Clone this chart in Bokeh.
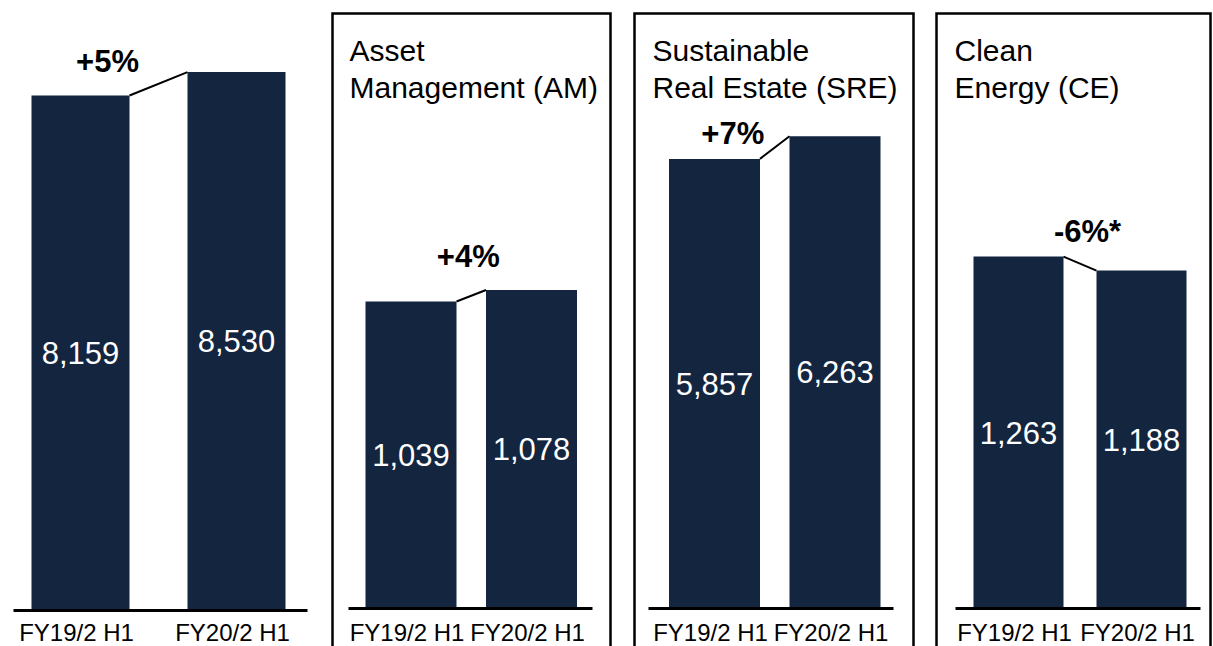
from bokeh.plotting import figure
from bokeh.layouts import row
from bokeh.models import Range1d
from bokeh.core.properties import value
from bokeh.embed import file_html
from bokeh.resources import INLINE

# ---------------- data ----------------
periods = ["FY19/2 H1", "FY20/2 H1"]
panel_titles = ["", "Asset\nManagement (AM)", "Sustainable\nReal Estate (SRE)", "Clean\nEnergy (CE)"]
total_values = [8159, 8530]
am_values = [1039, 1078]
sre_values = [5857, 6263]
ce_values = [1263, 1188]
changes = ["+5%", "+4%", "+7%", "-6%*"]
series = [total_values, am_values, sre_values, ce_values]

# ---------------- scales / layout (pixels of the picture) ----------------
AXIS_FLOOR = [0, 0, -2186, -622]          # value at each panel's baseline
PX_PER_UNIT = [0.06312, 0.29548, 0.0559, 0.1867]
FIG_X = [0, 320, 622, 924, 1213]
BAR_C = [(80, 236), (410.5, 531), (714, 834.5), (1018, 1141)]
BAR_W = [98, 91, 91, 90]
BASE_Y = [610, 608, 608, 608]
BASE_X = [(13, 307), (348, 592), (648, 893), (955, 1200)]
BOX_X = [None, (332, 610), (634, 913), (936, 1210)]
BOX_TOP = 13
TITLE_X = [None, 349, 652, 954]
TITLE_Y = 50          # visual centre of first title line
TITLE_STEP = 37
PCT_OFF = [(-51, -22), (-3, -39), (-42, -14.5), (7.5, -32)]   # centre offsets from connector midpoint
CAT_Y = 632           # visual centre of category labels
H = 646

NAVY = "#13253F"
FONT = value("Liberation Sans")

figs = []
for i in range(4):
    vals = series[i]
    m = AXIS_FLOOR[i]
    k = PX_PER_UNIT[i]
    c0, c1 = BAR_C[i]
    d = c1 - c0
    base_fy = BASE_Y[i]

    def xd(px, c0=c0, d=d):
        return (px - c0) / d

    def yd(py, m=m, k=k, base_fy=base_fy):
        return m + (base_fy - py) / k

    W = FIG_X[i + 1] - FIG_X[i]
    p = figure(width=W, height=H, output_backend="svg", toolbar_location=None,
               x_axis_type=None, y_axis_type=None,
               x_range=Range1d(xd(FIG_X[i]), xd(FIG_X[i + 1])),
               y_range=Range1d(yd(H), yd(0)),
               min_border=0, min_border_left=0, min_border_right=0,
               min_border_top=0, min_border_bottom=0)
    p.outline_line_color = None
    p.background_fill_color = "white"
    p.border_fill_color = "white"
    p.grid.visible = False

    idx = list(range(len(periods)))
    bw = BAR_W[i] / d

    # box around segment panels
    if BOX_X[i] is not None:
        L, R = BOX_X[i]
        p.line(x=[xd(L), xd(L), xd(R), xd(R)],
               y=[yd(720), yd(BOX_TOP), yd(BOX_TOP), yd(720)],
               line_color="black", line_width=2.5, line_join="miter")
        for j, line in enumerate(panel_titles[i].split("\n")):
            p.text(x=[xd(TITLE_X[i])], y=[yd(TITLE_Y + j * TITLE_STEP)], text=[line],
                   text_font=FONT, text_font_size="30px", text_color="black",
                   text_align="left", text_baseline="middle")

    # bars
    p.vbar(x=idx, top=vals, bottom=m, width=bw, fill_color=NAVY, line_color=None)

    # baseline
    p.segment(x0=[xd(BASE_X[i][0])], y0=[m], x1=[xd(BASE_X[i][1])], y1=[m],
              line_color="black", line_width=3)

    # value labels
    p.text(x=idx, y=[(m + v) / 2 for v in vals], text=[f"{v:,}" for v in vals],
           text_font=FONT, text_font_size="31px", text_color="white",
           text_align="center", text_baseline="middle")

    # connector
    p.segment(x0=[idx[0] + bw / 2], y0=[vals[0]], x1=[idx[1] - bw / 2], y1=[vals[1]],
              line_color="black", line_width=2)

    # change label
    dx, dy = PCT_OFF[i]
    p.text(x=[(idx[0] + idx[1]) / 2], y=[(vals[0] + vals[1]) / 2], text=[changes[i]],
           x_offset=dx, y_offset=dy,
           text_font=FONT, text_font_size="31px", text_font_style="bold",
           text_color="black", text_align="center", text_baseline="middle")

    # category labels
    p.text(x=idx, y=[yd(CAT_Y)] * len(idx), text=periods, x_offset=-4,
           text_font=FONT, text_font_size="24px", text_color="black",
           text_align="center", text_baseline="middle")

    figs.append(p)

layout = row(*figs, spacing=0)
open("out.html", "w").write(file_html(layout, INLINE))
